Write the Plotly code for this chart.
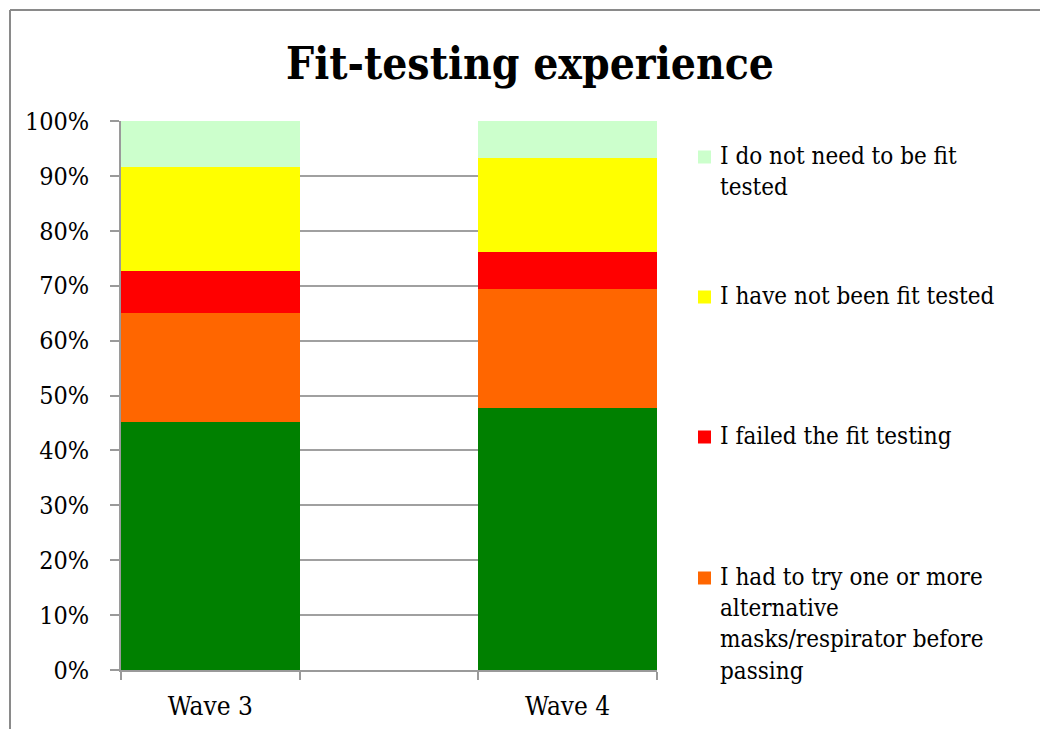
import plotly.graph_objects as go

# ---- data ----
categories = ["Wave 3", "Wave 4"]
passed = [45.1, 47.8]          # green (legend entry not visible in reference)
alt_masks = [19.9, 21.6]       # orange
failed = [7.7, 6.7]            # red
not_tested = [19.0, 17.1]      # yellow
no_need = [8.3, 6.8]           # light green

y_ticks = [0, 10, 20, 30, 40, 50, 60, 70, 80, 90, 100]
y_tick_labels = [f"{v}%" for v in y_ticks]

series = [
    ("I passed the fit testing", passed, "#008000", False),
    ("I had to try one or more<br>alternative<br>masks/respirator before<br>passing", alt_masks, "#FF6600", True),
    ("I failed the fit testing", failed, "#FF0000", True),
    ("I have not been fit tested", not_tested, "#FFFF00", True),
    ("I do not need to be fit<br>tested", no_need, "#CCFFCC", True),
]

W, H = 1040, 729
L, R, T, B = 121, 657, 121, 670  # plot area in pixels
FONT = "DejaVu Serif Condensed"

def px_x(p):
    return (p - L) / (R - L)

def px_y(p):
    return (B - p) / (B - T)

x_pos = list(range(len(categories)))

fig = go.Figure()
for name, vals, color, _ in series:
    fig.add_trace(go.Bar(
        x=x_pos, y=vals, name=name, width=0.5,
        marker=dict(color=color, line=dict(width=0)),
        showlegend=False,
    ))

# custom legend (Excel-style evenly spaced entries)
legend_items = [s for s in series if s[3]][::-1]
shapes = []
annotations = []
first_line_centers = [157, 297, 437, 578]
for (name, vals, color, _), cy in zip(legend_items, first_line_centers):
    shapes.append(dict(type="rect", xref="paper", yref="paper",
                       x0=px_x(698), x1=px_x(711), y0=px_y(cy + 6.5), y1=px_y(cy - 6.5),
                       fillcolor=color, line=dict(width=0)))
    annotations.append(dict(xref="paper", yref="paper", x=px_x(718), y=px_y(cy - 17),
                            xanchor="left", yanchor="top", align="left", showarrow=False,
                            text=name, font=dict(family=FONT, size=24, color="black")))

# outer chart border (left and top edges visible)
shapes.append(dict(type="line", xref="paper", yref="paper",
                   x0=px_x(10), x1=px_x(10), y0=px_y(10), y1=px_y(760),
                   line=dict(color="#8a8a8a", width=2)))
shapes.append(dict(type="line", xref="paper", yref="paper",
                   x0=px_x(10), x1=px_x(1060), y0=px_y(10), y1=px_y(10),
                   line=dict(color="#8a8a8a", width=2)))

fig.update_layout(
    width=W, height=H,
    margin=dict(l=L, r=W - R, t=T, b=H - B, pad=0, autoexpand=False),
    paper_bgcolor="white", plot_bgcolor="white",
    barmode="stack", bargap=0,
    showlegend=False,
    title=dict(text="<b>Fit-testing experience</b>", x=(530 - L) / (R - L), xref="paper",
               xanchor="center", y=1 - 64 / H, yanchor="middle",
               font=dict(family=FONT, size=44, color="black")),
    font=dict(family=FONT, color="black"),
    shapes=shapes,
    annotations=annotations,
)

fig.update_xaxes(
    range=[-0.25, 1.25], automargin=False,
    tickmode="array", tickvals=x_pos, ticktext=categories,
    ticks="", showgrid=False,
    showline=True, linecolor="#9a9a9a", linewidth=1.5,
    tickfont=dict(family=FONT, size=26, color="black"),
    ticklabelstandoff=12,
    minor=dict(tickmode="array", tickvals=[-0.25, 0.25, 0.75, 1.25],
               ticks="outside", ticklen=8, tickcolor="#9a9a9a", tickwidth=1.5, showgrid=False),
    zeroline=False, fixedrange=True,
)
fig.update_yaxes(
    range=[0, 100], automargin=False,
    tickmode="array", tickvals=y_ticks, ticktext=y_tick_labels,
    ticks="outside", ticklen=9, tickcolor="#9a9a9a", tickwidth=1.5,
    showgrid=True, gridcolor="#a0a0a0", gridwidth=1.5,
    showline=True, linecolor="#9a9a9a", linewidth=1.5,
    tickfont=dict(family=FONT, size=25, color="black"),
    ticklabelstandoff=16,
    zeroline=False, fixedrange=True,
)

fig.write_html("out.html", config={"displayModeBar": False},
               post_script="document.body.style.margin='0';")
